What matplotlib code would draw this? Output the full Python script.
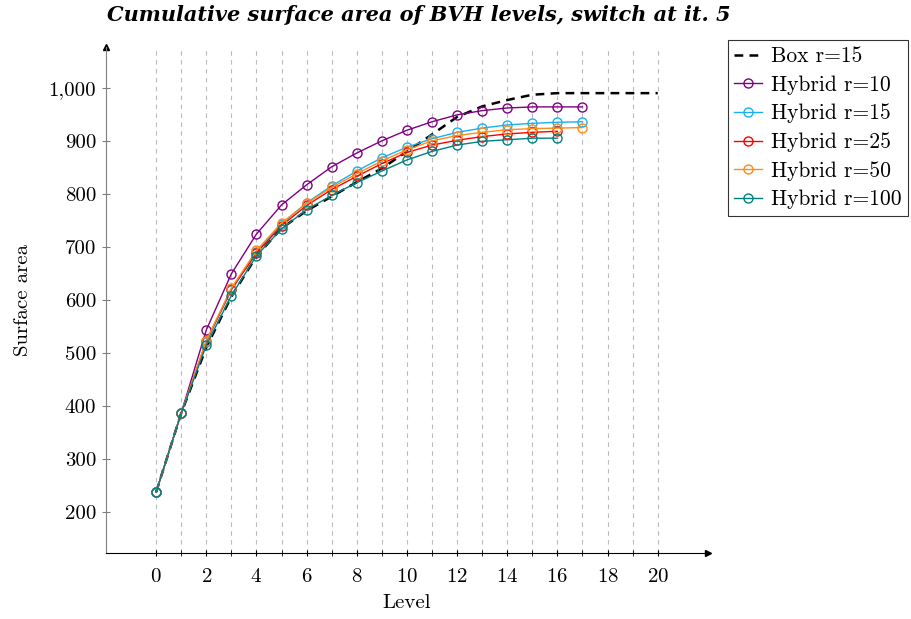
import matplotlib
matplotlib.use("Agg")
import matplotlib.pyplot as plt
from matplotlib.ticker import FuncFormatter, FixedLocator

plt.rcParams['font.family'] = ['cmr10', 'DejaVu Serif']
plt.rcParams['axes.formatter.use_mathtext'] = True
plt.rcParams['mathtext.fontset'] = 'cm'

# data
box_levels = list(range(0, 21))
box_r15 = [237, 386, 510, 606, 682, 735, 768, 795, 822, 848, 880, 912,
           945, 965, 977, 987, 990, 990, 990, 990, 990]

hyb_levels_17 = list(range(0, 18))
hyb_levels_16 = list(range(0, 17))
hyb_r10 = [237, 386, 543, 649, 724, 779, 817, 851, 877, 900, 920, 936,
           949, 957, 962, 964, 964, 964]
hyb_r15 = [237, 386, 520, 618, 690, 743, 783, 815, 843, 868, 888, 904,
           916, 924, 930, 933, 935, 936]
hyb_r25 = [237, 386, 522, 620, 688, 740, 778, 808, 833, 857, 878, 892,
           901, 908, 913, 916, 918]
hyb_r50 = [237, 386, 523, 622, 693, 745, 782, 812, 838, 862, 883, 900,
           910, 916, 921, 923, 924, 925]
hyb_r100 = [237, 386, 514, 608, 683, 734, 770, 797, 821, 843, 864, 880,
            892, 899, 902, 905, 905]

series = [
    ("Hybrid r=10", hyb_levels_17, hyb_r10, "#800080"),
    ("Hybrid r=15", hyb_levels_17, hyb_r15, "#1ab0f0"),
    ("Hybrid r=25", hyb_levels_16, hyb_r25, "#ff0000"),
    ("Hybrid r=50", hyb_levels_17, hyb_r50, "#ff8c1a"),
    ("Hybrid r=100", hyb_levels_16, hyb_r100, "#008080"),
]

fig = plt.figure(figsize=(9.12, 6.19), dpi=100)
ax = fig.add_axes([0.1162, 0.1066, 0.660, 0.8174])

ax.plot(box_levels, box_r15, color="black", linestyle=(0, (3.5, 2.5)),
        linewidth=1.8, label="Box r=15", zorder=3)
for name, lv, vals, col in series:
    ax.plot(lv, vals, color=col, linewidth=1.0, marker="o", markersize=6.5,
            markerfacecolor="none", markeredgewidth=1.0, label=name, zorder=4)

ax.set_xlim(-2, 22)
ax.set_ylim(122, 1077)
ax.set_xticks(range(0, 21, 2))
ax.xaxis.set_minor_locator(FixedLocator(range(1, 20, 2)))
ax.set_yticks(range(200, 1001, 100))
ax.yaxis.set_major_formatter(FuncFormatter(lambda v, p: "{:,}".format(int(v))))
ax.grid(axis="x", which="both", linestyle=(0, (4, 4)), color="#bbbbbb",
        linewidth=0.8)
ax.set_axisbelow(True)

for s in ["top", "right"]:
    ax.spines[s].set_visible(False)
ax.spines["left"].set_color("#808080")
ax.spines["bottom"].set_color("black")
ax.tick_params(axis="x", which="both", direction="inout", length=5,
               labelsize=15, pad=8)
ax.tick_params(axis="y", direction="inout", length=6, color="#808080",
               labelsize=15, pad=4)
ax.plot(1, 0, ">", color="black", markersize=4, transform=ax.transAxes,
        clip_on=False)
ax.plot(0, 1, "^", color="black", markersize=4, transform=ax.transAxes,
        clip_on=False)

ax.set_xlabel("Level", fontsize=15, labelpad=6)
ax.set_ylabel("Surface area", fontsize=15, labelpad=12)
fig.text(0.459, 1 - 15 / 619, "Cumulative surface area of BVH levels, switch at it. 5",
         fontsize=15, fontweight="bold", style="italic",
         family="DejaVu Serif", ha="center", va="center")

leg = fig.legend(loc="upper left", bbox_to_anchor=(0.798, 0.935),
                 fontsize=15.5, frameon=True, fancybox=False, edgecolor="black",
                 handlelength=1.3, borderpad=0.3, labelspacing=0.42,
                 handletextpad=0.4, borderaxespad=0)
leg.get_frame().set_linewidth(0.8)

fig.savefig("out.png", dpi=100)
